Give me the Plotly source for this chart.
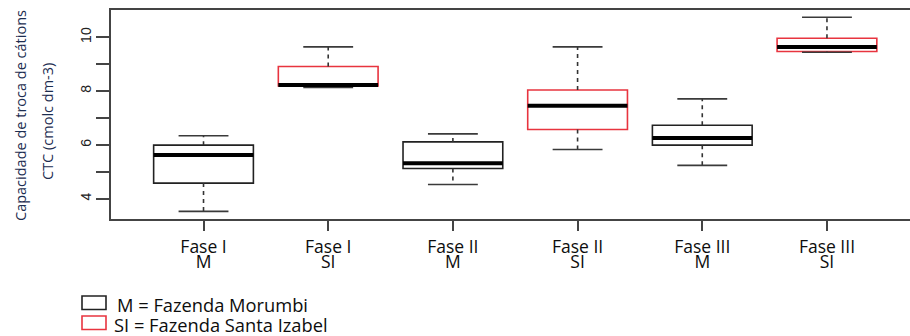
import plotly.graph_objects as go

# Cation exchange capacity (CTC) by sampling phase and farm
positions = [1, 2, 3, 4, 5, 6]
phase_labels = ["Fase I", "Fase I", "Fase II", "Fase II", "Fase III", "Fase III"]
farm_codes = ["M", "SI", "M", "SI", "M", "SI"]

lower_whisker = [3.53, 8.13, 4.53, 5.83, 5.24, 9.44]
q1_values = [4.58, 8.19, 5.12, 6.57, 5.99, 9.47]
median_values = [5.62, 8.22, 5.32, 7.45, 6.26, 9.64]
q3_values = [5.99, 8.91, 6.11, 8.04, 6.73, 9.96]
upper_whisker = [6.34, 9.64, 6.41, 9.64, 7.71, 10.74]

y_tick_values = [4, 5, 6, 7, 8, 9, 10]
y_tick_text = ["4", "", "6", "", "8", "", "10"]

legend_entries = ["M = Fazenda Morumbi", "SI = Fazenda Santa Izabel"]
y_title_lines = ["Capacidade de troca de cátions", "CTC (cmolc dm-3)"]

BLACK = "#222222"
RED = "#e8343f"
AXIS = "#444444"
TITLE_COLOR = "#1c2d50"
TEXT_COLOR = "#0d0d0d"
BOX_W = 0.8
CAP_W = 0.4

W, H = 910, 336
ML, MR, MT, MB = 111, 0, 10, 117
PW, PH = W - ML - MR, H - MT - MB


def xp(px):
    return (px - ML) / PW


def yp(py):
    return (MT + PH - py) / PH


fig = go.Figure()

# Boxes (quartile rectangles), one trace per farm
for idx, color, name in [([0, 2, 4], BLACK, "M"), ([1, 3, 5], RED, "SI")]:
    fig.add_trace(go.Box(
        x=[positions[i] for i in idx],
        q1=[q1_values[i] for i in idx],
        median=[median_values[i] for i in idx],
        q3=[q3_values[i] for i in idx],
        lowerfence=[q1_values[i] for i in idx],
        upperfence=[q3_values[i] for i in idx],
        width=BOX_W,
        whiskerwidth=0,
        fillcolor="white",
        line=dict(color=color, width=1.6),
        boxpoints=False,
        hoverinfo="skip",
        name=name,
        showlegend=False,
    ))

# Dashed whiskers
wx, wy = [], []
for p, lo, a, b, hi in zip(positions, lower_whisker, q1_values, q3_values, upper_whisker):
    wx += [p, p, None, p, p, None]
    wy += [b, hi, None, a, lo, None]
fig.add_trace(go.Scatter(x=wx, y=wy, mode="lines", hoverinfo="skip", showlegend=False,
                         line=dict(color="#333333", width=1.6, dash="4px,4px")))

# Whisker caps
cx, cy = [], []
for p, lo, hi in zip(positions, lower_whisker, upper_whisker):
    cx += [p - CAP_W / 2, p + CAP_W / 2, None, p - CAP_W / 2, p + CAP_W / 2, None]
    cy += [hi, hi, None, lo, lo, None]
fig.add_trace(go.Scatter(x=cx, y=cy, mode="lines", hoverinfo="skip", showlegend=False,
                         line=dict(color="#3a3a3a", width=1.6)))

# Thick medians
mx, my = [], []
for p, m in zip(positions, median_values):
    mx += [p - BOX_W / 2, p + BOX_W / 2, None]
    my += [m, m, None]
fig.add_trace(go.Scatter(x=mx, y=my, mode="lines", hoverinfo="skip", showlegend=False,
                         line=dict(color="#000000", width=4)))

# empty trace so the second (farm-code) x axis is drawn
fig.add_trace(go.Scatter(x=[None], y=[None], xaxis="x2", showlegend=False, hoverinfo="skip"))

x_range = [0.258, 6.666]
label_font = dict(family="Open Sans", size=17.5, color=TEXT_COLOR)

fig.update_layout(
    width=W, height=H,
    margin=dict(l=ML, r=MR, t=MT, b=MB),
    paper_bgcolor="white", plot_bgcolor="white",
    showlegend=False,
    xaxis=dict(
        range=x_range, tickmode="array", tickvals=positions, ticktext=phase_labels,
        ticks="outside", ticklen=10, tickwidth=1.6, tickcolor=AXIS,
        showline=True, linecolor=AXIS, linewidth=1.6, mirror=True,
        showgrid=False, zeroline=False, tickfont=label_font, ticklabelstandoff=1,
    ),
    xaxis2=dict(
        range=x_range, overlaying="x", anchor="y", side="bottom",
        tickmode="array", tickvals=positions, ticktext=farm_codes,
        ticks="", showline=False, showgrid=False, zeroline=False,
        tickfont=label_font, ticklabelstandoff=30,
    ),
    yaxis=dict(
        range=[3.247, 11.01], tickmode="array", tickvals=y_tick_values, ticktext=y_tick_text,
        ticks="outside", ticklen=13, tickwidth=1.6, tickcolor=AXIS, tickangle=-90,
        showline=True, linecolor=AXIS, linewidth=1.6,
        showgrid=False, zeroline=False,
        tickfont=dict(family="Liberation Sans", size=14, color="#222222"),
    ),
)

# Two-line y-axis title
for line, cx_px, cy_px in [(y_title_lines[0], 20, 116), (y_title_lines[1], 47, 122)]:
    fig.add_annotation(text=line, xref="paper", yref="paper", x=xp(cx_px), y=yp(cy_px),
                       xanchor="center", yanchor="middle", textangle=-90, showarrow=False,
                       font=dict(family="Open Sans", size=14.5, color=TITLE_COLOR))

# Farm legend
for entry, color, top, text_x in [(legend_entries[0], BLACK, 296, 116), (legend_entries[1], RED, 316, 112.5)]:
    fig.add_shape(type="rect", xref="paper", yref="paper",
                  x0=xp(82), x1=xp(106), y0=yp(top), y1=yp(top + 13.5),
                  line=dict(color=color, width=1.6), fillcolor="white")
    fig.add_annotation(text=entry, xref="paper", yref="paper", x=xp(text_x), y=yp(top + 8.5),
                       xanchor="left", yanchor="middle", showarrow=False, borderpad=0,
                       font=dict(family="Open Sans", size=18.3, color=TEXT_COLOR))

fig.write_html("out.html")
